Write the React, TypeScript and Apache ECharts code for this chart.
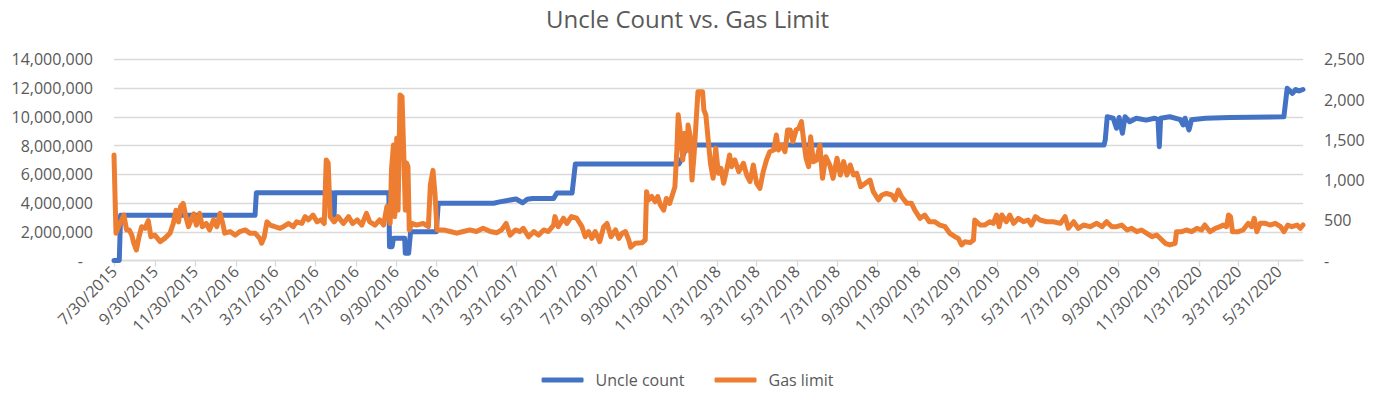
import { useEffect, useRef } from 'react';
import * as echarts from 'echarts';

const FONT = '"Open Sans", "Noto Sans", sans-serif';
const TEXT_COLOR = '#595959';
const GRID_COLOR = '#d9d9d9';

const titleText = 'Uncle Count vs. Gas Limit';
const seriesNames = ['Uncle count', 'Gas limit'];

const tickLabels = [
  '7/30/2015', '9/30/2015', '11/30/2015', '1/31/2016', '3/31/2016', '5/31/2016',
  '7/31/2016', '9/30/2016', '11/30/2016', '1/31/2017', '3/31/2017', '5/31/2017',
  '7/31/2017', '9/30/2017', '11/30/2017', '1/31/2018', '3/31/2018', '5/31/2018',
  '7/31/2018', '9/30/2018', '11/30/2018', '1/31/2019', '3/31/2019', '5/31/2019',
  '7/31/2019', '9/30/2019', '11/30/2019', '1/31/2020', '3/31/2020', '5/31/2020',
];

const axisStart = '2015-07-30';
const axisEnd = '2020-07-07';

// Left axis (blue)
const uncleCount: [string, number][] = [
  ['2015-07-30', 0], ['2015-08-07', 0], ['2015-08-09', 3141000], ['2016-02-29', 3141000],
  ['2016-03-02', 4712000], ['2016-06-25', 4712000], ['2016-06-26', 3141000], ['2016-06-28', 3141000],
  ['2016-06-29', 4712000], ['2016-09-19', 4712000], ['2016-09-20', 960000], ['2016-09-24', 960000],
  ['2016-09-26', 1540000], ['2016-10-13', 1540000], ['2016-10-14', 500000], ['2016-10-19', 500000],
  ['2016-10-22', 2000000], ['2016-11-30', 2000000], ['2016-12-03', 3980000], ['2017-02-25', 3980000],
  ['2017-03-06', 4080000], ['2017-03-16', 4160000], ['2017-03-31', 4280000], ['2017-04-10', 4020000],
  ['2017-04-17', 4260000], ['2017-04-25', 4320000], ['2017-05-27', 4320000], ['2017-06-01', 4700000],
  ['2017-06-24', 4700000], ['2017-06-29', 6710000], ['2017-12-03', 6710000], ['2017-12-06', 6950000],
  ['2017-12-16', 8030000], ['2019-09-09', 8030000], ['2019-09-11', 8400000], ['2019-09-14', 10000000],
  ['2019-09-23', 9900000], ['2019-09-28', 9200000], ['2019-10-02', 9950000], ['2019-10-07', 8850000],
  ['2019-10-11', 10000000], ['2019-10-18', 9660000], ['2019-10-28', 9900000], ['2019-11-12', 9770000],
  ['2019-11-25', 9900000], ['2019-11-30', 9800000], ['2019-12-02', 7920000], ['2019-12-04', 9900000],
  ['2019-12-18', 10000000], ['2020-01-03', 9800000], ['2020-01-07', 9430000], ['2020-01-10', 9900000],
  ['2020-01-16', 9080000], ['2020-01-20', 9800000], ['2020-02-10', 9900000], ['2020-03-18', 9950000],
  ['2020-06-08', 10000000], ['2020-06-13', 11980000], ['2020-06-21', 11630000], ['2020-06-26', 11900000],
  ['2020-07-01', 11800000], ['2020-07-07', 11900000],
];

// Right axis (orange)
const gasLimit: [string, number][] = [
  ['2015-07-30', 1310], ['2015-08-02', 340], ['2015-08-08', 460], ['2015-08-14', 565],
  ['2015-08-18', 380], ['2015-08-22', 380], ['2015-08-26', 315], ['2015-08-29', 215],
  ['2015-09-02', 130], ['2015-09-06', 295], ['2015-09-10', 420], ['2015-09-15', 400],
  ['2015-09-20', 495], ['2015-09-24', 295], ['2015-09-30', 315], ['2015-10-08', 235],
  ['2015-10-15', 275], ['2015-10-23', 340], ['2015-10-28', 460], ['2015-11-01', 625],
  ['2015-11-05', 480], ['2015-11-08', 670], ['2015-11-12', 710], ['2015-11-16', 545],
  ['2015-11-20', 420], ['2015-11-25', 525], ['2015-11-28', 580], ['2015-12-02', 440],
  ['2015-12-07', 585], ['2015-12-11', 420], ['2015-12-17', 460], ['2015-12-22', 380],
  ['2015-12-28', 505], ['2016-01-02', 420], ['2016-01-07', 585], ['2016-01-11', 460],
  ['2016-01-14', 340], ['2016-01-22', 360], ['2016-01-30', 315], ['2016-02-06', 360],
  ['2016-02-14', 380], ['2016-02-21', 340], ['2016-02-29', 340], ['2016-03-07', 275],
  ['2016-03-10', 215], ['2016-03-14', 295], ['2016-03-18', 480], ['2016-03-23', 440],
  ['2016-03-30', 420], ['2016-04-07', 400], ['2016-04-12', 420], ['2016-04-20', 460],
  ['2016-04-27', 420], ['2016-05-02', 480], ['2016-05-10', 460], ['2016-05-15', 545],
  ['2016-05-20', 505], ['2016-05-27', 565], ['2016-06-02', 480], ['2016-06-08', 505],
  ['2016-06-13', 460], ['2016-06-16', 1250], ['2016-06-19', 1210], ['2016-06-22', 545],
  ['2016-06-28', 480], ['2016-07-04', 545], ['2016-07-12', 460], ['2016-07-20', 545],
  ['2016-07-26', 460], ['2016-08-02', 505], ['2016-08-09', 440], ['2016-08-16', 585],
  ['2016-08-21', 480], ['2016-08-29', 440], ['2016-09-05', 505], ['2016-09-11', 440],
  ['2016-09-16', 670], ['2016-09-21', 460], ['2016-09-23', 1125], ['2016-09-26', 1435],
  ['2016-09-28', 545], ['2016-10-01', 1520], ['2016-10-03', 625], ['2016-10-06', 2056],
  ['2016-10-09', 2036], ['2016-10-12', 1230], ['2016-10-14', 625], ['2016-10-16', 1210],
  ['2016-10-18', 1166], ['2016-10-20', 380], ['2016-10-24', 462], ['2016-10-31', 440],
  ['2016-11-10', 460], ['2016-11-18', 420], ['2016-11-21', 940], ['2016-11-25', 1120],
  ['2016-11-28', 830], ['2016-12-01', 380], ['2016-12-11', 380], ['2016-12-21', 360],
  ['2016-12-31', 340], ['2017-01-10', 360], ['2017-01-20', 380], ['2017-01-30', 360],
  ['2017-02-09', 400], ['2017-02-20', 360], ['2017-03-02', 345], ['2017-03-09', 380],
  ['2017-03-16', 460], ['2017-03-22', 315], ['2017-03-30', 380], ['2017-04-06', 360],
  ['2017-04-11', 400], ['2017-04-19', 295], ['2017-04-27', 360], ['2017-05-04', 315],
  ['2017-05-12', 380], ['2017-05-19', 360], ['2017-05-27', 440], ['2017-05-29', 545],
  ['2017-06-03', 420], ['2017-06-11', 525], ['2017-06-16', 460], ['2017-06-23', 545],
  ['2017-07-01', 525], ['2017-07-09', 420], ['2017-07-14', 295], ['2017-07-19', 360],
  ['2017-07-24', 275], ['2017-07-29', 360], ['2017-08-05', 235], ['2017-08-11', 420],
  ['2017-08-16', 460], ['2017-08-22', 295], ['2017-08-29', 380], ['2017-09-03', 275],
  ['2017-09-08', 340], ['2017-09-13', 360], ['2017-09-18', 255], ['2017-09-21', 165],
  ['2017-09-28', 215], ['2017-10-08', 220], ['2017-10-13', 255], ['2017-10-15', 855],
  ['2017-10-18', 750], ['2017-10-23', 795], ['2017-10-28', 730], ['2017-11-01', 795],
  ['2017-11-05', 690], ['2017-11-10', 625], ['2017-11-14', 770], ['2017-11-19', 710],
  ['2017-11-24', 835], ['2017-11-27', 915], ['2017-11-30', 1370], ['2017-12-02', 1810],
  ['2017-12-06', 1540], ['2017-12-09', 1250], ['2017-12-12', 1580], ['2017-12-16', 1370],
  ['2017-12-17', 1685], ['2017-12-20', 1550], ['2017-12-23', 1000], ['2017-12-26', 1300],
  ['2017-12-29', 1700], ['2018-01-01', 2098], ['2018-01-08', 2098], ['2018-01-10', 1870],
  ['2018-01-13', 1808], ['2018-01-17', 1456], ['2018-01-20', 1208], ['2018-01-24', 1021],
  ['2018-01-28', 1394], ['2018-02-01', 1083], ['2018-02-05', 1145], ['2018-02-09', 959],
  ['2018-02-14', 1145], ['2018-02-18', 1311], ['2018-02-21', 1166], ['2018-02-26', 1249],
  ['2018-03-04', 1104], ['2018-03-11', 1208], ['2018-03-16', 1062], ['2018-03-21', 980],
  ['2018-03-26', 1187], ['2018-03-31', 959], ['2018-04-05', 897], ['2018-04-10', 1104],
  ['2018-04-15', 1249], ['2018-04-20', 1352], ['2018-04-26', 1373], ['2018-04-30', 1560],
  ['2018-05-03', 1373], ['2018-05-08', 1435], ['2018-05-13', 1352], ['2018-05-17', 1622],
  ['2018-05-21', 1622], ['2018-05-25', 1477], ['2018-05-30', 1622], ['2018-06-03', 1642],
  ['2018-06-07', 1725], ['2018-06-10', 1518], ['2018-06-14', 1270], ['2018-06-18', 1166],
  ['2018-06-21', 1539], ['2018-06-25', 1228], ['2018-06-30', 1249], ['2018-07-05', 1435],
  ['2018-07-09', 1021], ['2018-07-14', 1290], ['2018-07-20', 1187], ['2018-07-25', 1021],
  ['2018-07-31', 1270], ['2018-08-05', 1062], ['2018-08-10', 1228], ['2018-08-15', 1062],
  ['2018-08-20', 1187], ['2018-08-25', 1062], ['2018-08-30', 1083], ['2018-09-05', 917],
  ['2018-09-12', 959], ['2018-09-19', 1000], ['2018-09-24', 855], ['2018-10-02', 752],
  ['2018-10-07', 814], ['2018-10-14', 834], ['2018-10-22', 814], ['2018-10-27', 752],
  ['2018-11-01', 876], ['2018-11-06', 793], ['2018-11-14', 710], ['2018-11-21', 710],
  ['2018-11-26', 627], ['2018-12-04', 524], ['2018-12-11', 565], ['2018-12-18', 482],
  ['2018-12-26', 482], ['2019-01-03', 441], ['2019-01-11', 420], ['2019-01-18', 338],
  ['2019-01-26', 296], ['2019-01-31', 275], ['2019-02-05', 193], ['2019-02-10', 234],
  ['2019-02-18', 222], ['2019-02-23', 255], ['2019-02-25', 503], ['2019-03-05', 441],
  ['2019-03-12', 441], ['2019-03-20', 482], ['2019-03-25', 462], ['2019-03-30', 565],
  ['2019-04-03', 420], ['2019-04-07', 565], ['2019-04-14', 482], ['2019-04-19', 565],
  ['2019-04-25', 462], ['2019-05-02', 524], ['2019-05-10', 482], ['2019-05-17', 503],
  ['2019-05-22', 441], ['2019-05-28', 545], ['2019-06-04', 503], ['2019-06-14', 482],
  ['2019-06-24', 482], ['2019-07-05', 462], ['2019-07-12', 545], ['2019-07-17', 400],
  ['2019-07-25', 482], ['2019-08-01', 400], ['2019-08-09', 441], ['2019-08-19', 420],
  ['2019-08-29', 462], ['2019-09-06', 420], ['2019-09-13', 482], ['2019-09-21', 420],
  ['2019-09-28', 420], ['2019-10-06', 441], ['2019-10-14', 379], ['2019-10-21', 400],
  ['2019-10-29', 358], ['2019-11-05', 379], ['2019-11-13', 338], ['2019-11-21', 296],
  ['2019-11-28', 317], ['2019-12-06', 255], ['2019-12-11', 213], ['2019-12-18', 193],
  ['2019-12-26', 213], ['2019-12-28', 358], ['2020-01-05', 358], ['2020-01-12', 379],
  ['2020-01-20', 358], ['2020-01-28', 400], ['2020-02-04', 379], ['2020-02-09', 441],
  ['2020-02-17', 358], ['2020-02-25', 400], ['2020-03-03', 420], ['2020-03-08', 441],
  ['2020-03-13', 420], ['2020-03-16', 565], ['2020-03-19', 545], ['2020-03-22', 358],
  ['2020-03-31', 358], ['2020-04-07', 379], ['2020-04-15', 462], ['2020-04-20', 420],
  ['2020-04-24', 524], ['2020-04-28', 358], ['2020-05-03', 462], ['2020-05-11', 462],
  ['2020-05-18', 441], ['2020-05-26', 462], ['2020-06-03', 420], ['2020-06-08', 358],
  ['2020-06-14', 441], ['2020-06-20', 420], ['2020-06-28', 441], ['2020-07-03', 400],
  ['2020-07-07', 441],
];

function parseIso(s: string): number {
  const [y, m, d] = s.split('-').map(Number);
  return new Date(y, m - 1, d).getTime();
}
function parseMdy(s: string): number {
  const [m, d, y] = s.split('/').map(Number);
  return new Date(y, m - 1, d).getTime();
}
function fmtDate(v: number): string {
  const d = new Date(v);
  return `${d.getMonth() + 1}/${d.getDate()}/${d.getFullYear()}`;
}
function fmtNum(v: number): string {
  if (v === 0) return '{dash|-}';
  return String(Math.round(v)).replace(/\B(?=(\d{3})+(?!\d))/g, ',');
}

export default function App() {
  const ref = useRef<HTMLDivElement>(null);
  useEffect(() => {
    if (!ref.current) return;
    const chart = echarts.init(ref.current, undefined, { renderer: 'svg' });
    const tickTimes = tickLabels.map(parseMdy);
    const toPairs = (arr: [string, number][]) => arr.map(([d, v]) => [parseIso(d), v]);
    chart.setOption({
      animation: false,
      backgroundColor: '#ffffff',
      title: {
        text: titleText,
        left: 'center',
        top: 1,
        textStyle: { fontFamily: FONT, fontSize: 24, fontWeight: 'normal', color: TEXT_COLOR },
      },
      legend: {
        data: seriesNames,
        left: 'center',
        top: 367,
        icon: 'roundRect',
        itemWidth: 42,
        itemHeight: 5,
        itemGap: 30,
        textStyle: { fontFamily: FONT, fontSize: 16, color: TEXT_COLOR, padding: [0, 0, 0, 7] },
      },
      grid: { left: 114, right: 72, top: 59.3, bottom: 138.5, containLabel: false },
      xAxis: {
        type: 'value',
        min: parseIso(axisStart),
        max: parseIso(axisEnd),
        axisLine: { show: true, onZero: false, lineStyle: { color: GRID_COLOR, width: 1.3 } },
        axisTick: { show: true, customValues: tickTimes, length: 6, lineStyle: { color: GRID_COLOR, width: 1.3 } },
        axisLabel: {
          customValues: tickTimes,
          rotate: 45,
          margin: 8,
          fontFamily: FONT,
          fontSize: 16,
          color: TEXT_COLOR,
          formatter: (v: number) => fmtDate(v),
        },
        splitLine: { show: false },
      },
      yAxis: [
        {
          type: 'value',
          position: 'left',
          min: 0,
          max: 14000000,
          interval: 2000000,
          axisLine: { show: false },
          axisTick: { show: false },
          splitLine: { lineStyle: { color: GRID_COLOR, width: 1.3 } },
          axisLabel: {
            margin: 21,
            fontFamily: FONT,
            fontSize: 16,
            color: TEXT_COLOR,
            formatter: fmtNum,
            rich: { dash: { fontFamily: FONT, fontSize: 16, color: TEXT_COLOR, padding: [0, 10, 0, 0] } },
          },
        },
        {
          type: 'value',
          position: 'right',
          min: 0,
          max: 2500,
          interval: 500,
          axisLine: { show: false },
          axisTick: { show: false },
          splitLine: { show: false },
          axisLabel: {
            margin: 21,
            fontFamily: FONT,
            fontSize: 16,
            color: TEXT_COLOR,
            formatter: fmtNum,
            rich: { dash: { fontFamily: FONT, fontSize: 16, color: TEXT_COLOR } },
          },
        },
      ],
      series: [
        {
          name: seriesNames[0],
          type: 'line',
          yAxisIndex: 0,
          data: toPairs(uncleCount),
          showSymbol: false,
          symbol: 'none',
          lineStyle: { color: '#4472C4', width: 5, join: 'round', cap: 'round' },
          itemStyle: { color: '#4472C4' },
        },
        {
          name: seriesNames[1],
          type: 'line',
          yAxisIndex: 1,
          data: toPairs(gasLimit),
          showSymbol: false,
          symbol: 'none',
          lineStyle: { color: '#ED7D31', width: 5, join: 'round', cap: 'round' },
          itemStyle: { color: '#ED7D31' },
        },
      ],
    });
    return () => chart.dispose();
  }, []);
  return (
    <div
      ref={ref}
      style={{ position: 'fixed', left: 0, top: 0, width: 1375, height: 399, background: '#fff' }}
    />
  );
}
